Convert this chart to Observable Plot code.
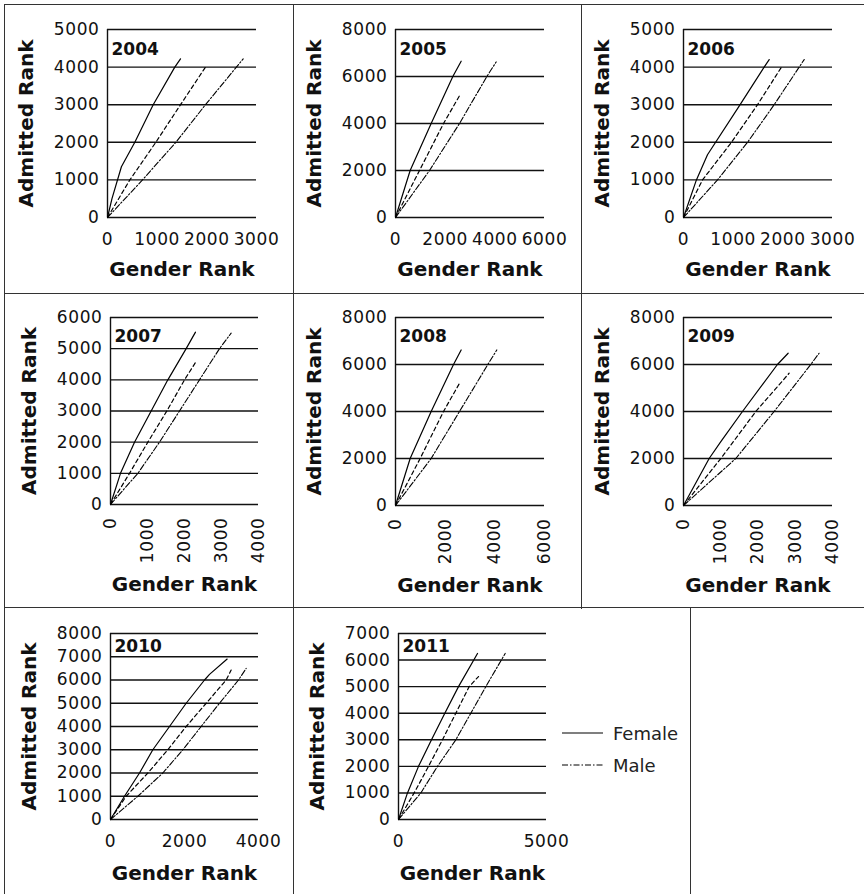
<!DOCTYPE html>
<html>
<head>
<meta charset="utf-8">
<script src="https://cdn.jsdelivr.net/npm/d3@7"></script>
<script src="https://cdn.jsdelivr.net/npm/@observablehq/plot@0.6"></script>
<style>
  html, body { margin: 0; padding: 0; background: #fff; }
  #wrap { position: relative; width: 864px; height: 894px; overflow: hidden; font-family: "DejaVu Sans", sans-serif; color: #111; }
  .cell { position: absolute; box-sizing: border-box; border-left: 1.5px solid #333; border-top: 1.5px solid #333; }
  .cell svg { position: absolute; left: 0; top: 0; }
  .cell svg g[aria-label$="tick label"] text { letter-spacing: 0.6px; }
  #legend { position: absolute; left: 562px; top: 717px; font-size: 18px; color: #222; }
  #legend .row { display: flex; align-items: center; height: 32px; }
  #legend svg { margin-right: 10px; }
</style>
</head>
<body>
<div id="wrap"></div>
<script>
// ---- data: [Gender Rank, Admitted Rank] ----
const years = ["2004","2005","2006","2007","2008","2009","2010","2011"];
const seriesNames = ["Female", "All", "Male"];
const legendNames = ["Female", "Male"];

const female2004 = [[0,0],[90,500],[280,1350],[550,2000],[920,3000],[1355,4000],[1470,4220]];
const dashed2004 = [[0,0],[450,1000],[973,2000],[1470,3000],[1973,4000]];
const male2004   = [[0,0],[705,1000],[1376,2000],[1973,3000],[2732,4220]];

const female2005 = [[0,0],[590,2000],[1436,4000],[2309,6000],[2644,6650]];
const dashed2005 = [[0,0],[966,2000],[1933,4000],[2604,5230]];
const male2005   = [[0,0],[1369,2000],[2577,4000],[3678,6000],[4054,6620]];

const female2006 = [[0,0],[260,1000],[483,1670],[1140,3000],[1624,4000],[1725,4200]];
const dashed2006 = [[0,0],[383,1000],[966,2000],[1490,3000],[1973,4000]];
const male2006   = [[0,0],[685,1000],[1289,2000],[1826,3000],[2430,4200]];

const female2007 = [[0,0],[270,1000],[649,2000],[1099,3000],[1550,4000],[2045,5000],[2297,5530]];
const dashed2007 = [[0,0],[514,1000],[1009,2000],[1523,3000],[2000,4000],[2315,4590]];
const male2007   = [[0,0],[739,1000],[1324,2000],[1865,3000],[2405,4000],[2946,5000],[3261,5500]];

const female2008 = [[0,0],[590,2000],[1436,4000],[2336,6000],[2644,6620]];
const dashed2008 = [[0,0],[993,2000],[1933,4000],[2604,5250]];
const male2008   = [[0,0],[1436,2000],[2577,4000],[3718,6000],[4080,6620]];

const female2009 = [[0,0],[689,2000],[1002,2720],[1583,4000],[2522,6000],[2809,6480]];
const dashed2009 = [[0,0],[1002,2000],[1941,4000],[2836,5630]];
const male2009   = [[0,0],[1404,2000],[2433,4000],[3417,6000],[3640,6480]];

const female2010 = [[0,0],[378,1000],[784,2000],[1144,3000],[1595,4000],[2045,5000],[2541,6000],[2676,6240],[3153,6900]];
const dashed2010 = [[0,0],[423,1000],[1009,2000],[1550,3000],[2045,4000],[2586,5000],[3126,6000],[3261,6430]];
const male2010   = [[0,0],[739,1000],[1414,2000],[1955,3000],[2450,4000],[2946,5000],[3459,6000],[3667,6500]];

const female2011 = [[0,0],[304,1000],[676,2000],[1115,3000],[1565,4000],[2027,5000],[2669,6250]];
const dashed2011 = [[0,0],[529,1000],[1014,2000],[1486,3000],[1937,4000],[2387,5000],[2703,5380]];
const male2011   = [[0,0],[755,1000],[1318,2000],[1937,3000],[2444,4000],[2950,5000],[3604,6250]];

const xTicks2004 = [0,1000,2000,3000], yTicks2004 = [0,1000,2000,3000,4000,5000];
const xTicks2005 = [0,2000,4000,6000], yTicks2005 = [0,2000,4000,6000,8000];
const xTicks2006 = [0,1000,2000,3000], yTicks2006 = [0,1000,2000,3000,4000,5000];
const xTicks2007 = [0,1000,2000,3000,4000], yTicks2007 = [0,1000,2000,3000,4000,5000,6000];
const xTicks2008 = [0,2000,4000,6000], yTicks2008 = [0,2000,4000,6000,8000];
const xTicks2009 = [0,1000,2000,3000,4000], yTicks2009 = [0,2000,4000,6000,8000];
const xTicks2010 = [0,2000,4000], yTicks2010 = [0,1000,2000,3000,4000,5000,6000,7000,8000];
const xTicks2011 = [0,5000], yTicks2011 = [0,1000,2000,3000,4000,5000,6000,7000];

const xAxisTitle = "Gender Rank";
const yAxisTitle = "Admitted Rank";

// ---- layout ----
const panels = [
  {year:"2004", f:female2004, d:dashed2004, m:male2004, xt:xTicks2004, yt:yTicks2004, cell:[4,4,289,289], mg:[24,38,77,102], rot:false, yearDy:20, xtitleDy:52, tickPad:15},
  {year:"2005", f:female2005, d:dashed2005, m:male2005, xt:xTicks2005, yt:yTicks2005, cell:[293,4,288,289], mg:[24,38,77,101], rot:false, yearDy:20, xtitleDy:52, tickPad:15},
  {year:"2006", f:female2006, d:dashed2006, m:male2006, xt:xTicks2006, yt:yTicks2006, cell:[581,4,283,289], mg:[24,33,77,101], rot:false, yearDy:20, xtitleDy:52, tickPad:15},
  {year:"2007", f:female2007, d:dashed2007, m:male2007, xt:xTicks2007, yt:yTicks2007, cell:[4,293,289,314], mg:[23,36,104,105], rot:true, yearDy:19, xtitleDy:80, tickPad:13},
  {year:"2008", f:female2008, d:dashed2008, m:male2008, xt:xTicks2008, yt:yTicks2008, cell:[293,293,288,314], mg:[23,38,103,101], rot:true, yearDy:19, xtitleDy:80, tickPad:13},
  {year:"2009", f:female2009, d:dashed2009, m:male2009, xt:xTicks2009, yt:yTicks2009, cell:[581,293,283,314], mg:[23,33,103,101], rot:true, yearDy:19, xtitleDy:80, tickPad:13},
  {year:"2010", f:female2010, d:dashed2010, m:male2010, xt:xTicks2010, yt:yTicks2010, cell:[4,607,289,287], mg:[25,36,76,105], rot:false, yearDy:13, xtitleDy:54, tickPad:15},
  {year:"2011", f:female2011, d:dashed2011, m:male2011, xt:xTicks2011, yt:yTicks2011, cell:[293,607,397,287], mg:[25,145,76,104], rot:false, yearDy:13, xtitleDy:54, tickPad:15},
];

const wrap = document.getElementById("wrap");
const ink = "#111";

function rows(pairs, name) { return pairs.map(([x, y]) => ({x, y, series: name})); }

for (const p of panels) {
  const [cx, cy, cw, ch] = p.cell;
  const div = document.createElement("div");
  div.className = "cell";
  Object.assign(div.style, {left: cx + "px", top: cy + "px", width: (cw + 2) + "px", height: (ch + 2) + "px"});
  const [mt, mr, mb, ml] = p.mg;
  const xmax = p.xt[p.xt.length - 1], ymax = p.yt[p.yt.length - 1];
  const chart = Plot.plot({
    width: cw, height: ch,
    marginTop: mt, marginRight: mr, marginBottom: mb, marginLeft: ml,
    style: {fontFamily: "DejaVu Sans, sans-serif", fontSize: "17px", color: ink, background: "transparent", overflow: "visible"},
    x: {domain: [0, xmax], ticks: p.xt, tickSize: 0, tickPadding: p.tickPad, tickRotate: p.rot ? -90 : 0, tickFormat: d => String(d), label: null},
    y: {domain: [0, ymax], ticks: p.yt, tickSize: 0, tickPadding: 8, tickFormat: d => String(d), label: null},
    marks: [
      Plot.ruleY(p.yt, {stroke: ink, strokeWidth: 1.4}),
      Plot.ruleX([0], {stroke: ink, strokeWidth: 1.4}),
      Plot.line(rows(p.f, seriesNames[0]), {x: "x", y: "y", stroke: "#000", strokeWidth: 1.2}),
      Plot.line(rows(p.d, seriesNames[1]), {x: "x", y: "y", stroke: "#000", strokeWidth: 1.2, strokeDasharray: "4,3"}),
      Plot.line(rows(p.m, seriesNames[2]), {x: "x", y: "y", stroke: "#000", strokeWidth: 1.1, strokeDasharray: "6,2,1.5,2"}),
      Plot.text([p.year], {text: d => d, frameAnchor: "top-left", dx: 4, dy: p.yearDy, textAnchor: "start", lineAnchor: "middle", fontWeight: "bold", fontSize: 17, fill: ink}),
      Plot.text([xAxisTitle], {text: d => d, frameAnchor: "bottom", dy: p.xtitleDy, textAnchor: "middle", lineAnchor: "middle", fontWeight: "bold", fontSize: 20, fill: ink}),
      Plot.text([yAxisTitle], {text: d => d, frameAnchor: "left", rotate: -90, dx: -81, textAnchor: "middle", lineAnchor: "middle", fontWeight: "bold", fontSize: 20, fill: ink})
    ]
  });
  div.appendChild(chart);
  wrap.appendChild(div);
}

// empty bottom-right cell
const empty = document.createElement("div");
empty.className = "cell";
Object.assign(empty.style, {left: "690px", top: "607px", width: "180px", height: "300px"});
wrap.appendChild(empty);

// legend (Female / Male)
const legend = document.createElement("div");
legend.id = "legend";
const dashes = {Female: null, Male: "6,2,1.5,2"};
for (const name of legendNames) {
  const row = document.createElement("div");
  row.className = "row";
  row.innerHTML = `<svg width="41" height="6"><line x1="0" x2="41" y1="3" y2="3" stroke="#000" stroke-width="1.2" ${dashes[name] ? `stroke-dasharray="${dashes[name]}"` : ""}/></svg><span>${name}</span>`;
  legend.appendChild(row);
}
wrap.appendChild(legend);
</script>
</body>
</html>
